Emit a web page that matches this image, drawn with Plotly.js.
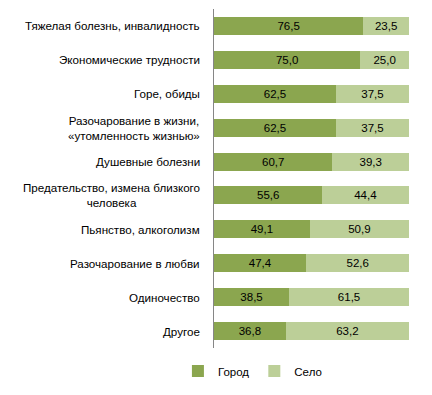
<!DOCTYPE html>
<html>
<head>
<meta charset="utf-8">
<script src="https://cdn.plot.ly/plotly-3.0.1.min.js"></script>
<style>html,body{margin:0;padding:0;background:#fff;}#chart{width:432px;height:395px;}</style>
</head>
<body>
<div id="chart"></div>
<script>
const categories = [
  "Тяжелая болезнь, инвалидность",
  "Экономические трудности",
  "Горе, обиды",
  "Разочарование в жизни,<br>«утомленность жизнью»",
  "Душевные болезни",
  "Предательство, измена близкого<br>человека",
  "Пьянство, алкоголизм",
  "Разочарование в любви",
  "Одиночество",
  "Другое"
];
const city = [76.5, 75.0, 62.5, 62.5, 60.7, 55.6, 49.1, 47.4, 38.5, 36.8];
const village = [23.5, 25.0, 37.5, 37.5, 39.3, 44.4, 50.9, 52.6, 61.5, 63.2];
const seriesNames = ["Город", "Село"];

const FONT = "Liberation Sans, Arial, sans-serif";
const common = {
  type: "bar", orientation: "h", y: categories,
  texttemplate: "%{x:.1f}", textposition: "inside", insidetextanchor: "middle",
  textangle: 0, constraintext: "none",
  insidetextfont: {family: FONT, size: 11.5, color: "#000"},
  hoverinfo: "none"
};
const traces = [
  Object.assign({}, common, {x: city, name: seriesNames[0], marker: {color: "#8BA64F"}}),
  Object.assign({}, common, {x: village, name: seriesNames[1], marker: {color: "#BCCF98"}})
];

const annotations = categories.map(c => ({
  xref: "x", yref: "y", x: 0, y: c, text: c, showarrow: false,
  xanchor: "right", yanchor: "middle", align: "center", xshift: -12,
  font: {family: FONT, size: 11.6, color: "#000"}
}));

const layout = {
  width: 432, height: 395,
  margin: {l: 214, r: 23, t: 9, b: 43},
  paper_bgcolor: "#fff", plot_bgcolor: "#fff",
  barmode: "stack", bargap: 0.47,
  separators: ", ",
  font: {family: FONT, size: 11.5, color: "#000"},
  xaxis: {range: [0, 100], visible: false, fixedrange: true},
  yaxis: {autorange: "reversed", showticklabels: false, showgrid: false, zeroline: false,
          showline: true, linecolor: "#868686", linewidth: 1, ticks: "", fixedrange: true},
  showlegend: true,
  legend: {orientation: "h", x: -0.185, xanchor: "left", y: -0.068, yanchor: "middle",
           itemwidth: 30, traceorder: "normal", font: {family: FONT, size: 11.5, color: "#000"}},
  annotations: annotations
};
Plotly.newPlot("chart", traces, layout, {displayModeBar: false, staticPlot: true});
</script>
</body>
</html>
